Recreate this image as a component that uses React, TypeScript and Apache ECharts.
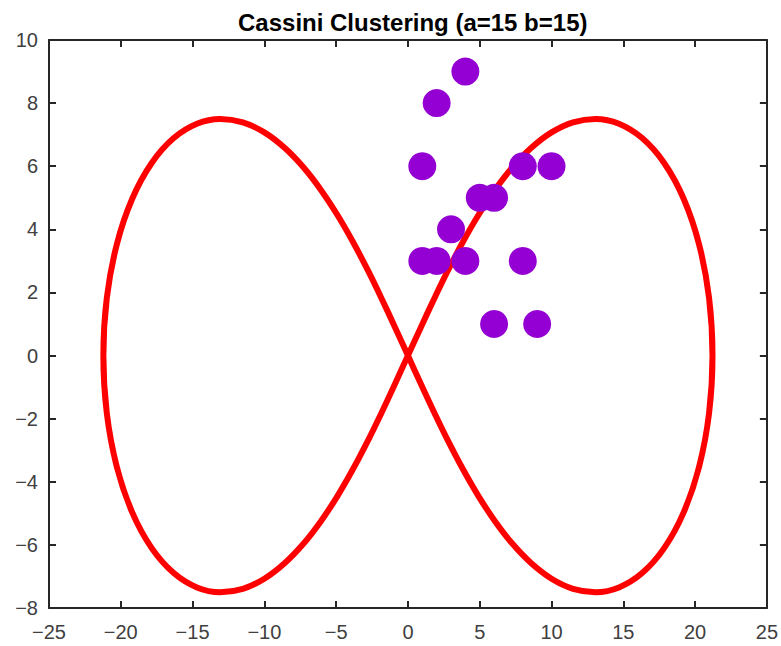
import React, { useEffect, useRef } from "react";
import * as echarts from "echarts";

const titleText = "Cassini Clustering (a=15 b=15)";

// Cassini curve (a=15, b=15) points, starting at the origin
const curveX = [
  0, -0.928, -1.87, -2.84, -3.853, -4.922, -6.061, -7.281, -8.593, -10.0, -11.499, -13.075, -14.697, -16.312, -17.846, -19.204, -20.279, -20.973, -21.213,
  -20.973, -20.279, -19.204, -17.846, -16.312, -14.697, -13.075, -11.499, -10.0, -8.593, -7.281, -6.061, -4.922, -3.853, -2.84, -1.87, -0.928, 0,
  0.928, 1.87, 2.84, 3.853, 4.922, 6.061, 7.281, 8.593, 10.0, 11.499, 13.075, 14.697, 16.312, 17.846, 19.204, 20.279, 20.973, 21.213,
  20.973, 20.279, 19.204, 17.846, 16.312, 14.697, 13.075, 11.499, 10.0, 8.593, 7.281, 6.061, 4.922, 3.853, 2.84, 1.87, 0.928, 0,
];
const curveY = [
  0, -0.924, -1.842, -2.744, -3.621, -4.461, -5.249, -5.965, -6.582, -7.071, -7.391, -7.5, -7.348, -6.894, -6.104, -4.97, -3.522, -1.828, 0,
  1.828, 3.522, 4.97, 6.104, 6.894, 7.348, 7.5, 7.391, 7.071, 6.582, 5.965, 5.249, 4.461, 3.621, 2.744, 1.842, 0.924, 0,
  -0.924, -1.842, -2.744, -3.621, -4.461, -5.249, -5.965, -6.582, -7.071, -7.391, -7.5, -7.348, -6.894, -6.104, -4.97, -3.522, -1.828, 0,
  1.828, 3.522, 4.97, 6.104, 6.894, 7.348, 7.5, 7.391, 7.071, 6.582, 5.965, 5.249, 4.461, 3.621, 2.744, 1.842, 0.924, 0,
];

// cluster points
const pointsX = [4, 2, 1, 8, 10, 5, 6, 3, 1, 2, 4, 8, 6, 9];
const pointsY = [9, 8, 6, 6, 6, 5, 5, 4, 3, 3, 3, 3, 1, 1];

const xMin = -25, xMax = 25, xStep = 5;
const yMin = -8, yMax = 10, yStep = 2;

const axisColor = "#262626";
const labelColor = "#404040";
const fontFamily = "Liberation Sans, Arial, Helvetica, sans-serif";

const fmt = (v: number) => String(v).replace("-", "\u2212");

export default function App() {
  const ref = useRef<HTMLDivElement>(null);
  useEffect(() => {
    if (!ref.current) return;
    const chart = echarts.init(ref.current, undefined, { renderer: "svg" });
    const axisCommon = {
      type: "value" as const,
      axisLine: { show: true, onZero: false, lineStyle: { color: axisColor, width: 2 } },
      axisTick: { show: true, inside: true, length: 7, lineStyle: { color: axisColor, width: 2 } },
      splitLine: { show: false },
    };
    chart.setOption({
      animation: false,
      backgroundColor: "#ffffff",
      title: {
        text: titleText,
        left: 233,
        top: 5,
        textStyle: { fontFamily, fontSize: 24, fontWeight: "bold", color: "#000" },
      },
      grid: { left: 49, right: 12, top: 40, bottom: 38, containLabel: false },
      xAxis: [
        {
          ...axisCommon,
          position: "bottom",
          min: xMin,
          max: xMax,
          interval: xStep,
          axisLabel: { color: labelColor, fontFamily, fontSize: 20, margin: 14, formatter: fmt },
        },
        {
          ...axisCommon,
          position: "top",
          min: xMin,
          max: xMax,
          interval: xStep,
          axisLabel: { show: false },
        },
      ],
      yAxis: [
        {
          ...axisCommon,
          position: "left",
          min: yMin,
          max: yMax,
          interval: yStep,
          axisLabel: { color: labelColor, fontFamily, fontSize: 20, margin: 11, formatter: fmt },
        },
        {
          ...axisCommon,
          position: "right",
          min: yMin,
          max: yMax,
          interval: yStep,
          axisLabel: { show: false },
        },
      ],
      series: [
        {
          type: "line",
          xAxisIndex: 0,
          yAxisIndex: 0,
          data: curveX.map((x, i) => [x, curveY[i]]),
          smooth: 0.3,
          showSymbol: false,
          symbol: "none",
          lineStyle: { color: "#ff0000", width: 6, join: "round", cap: "round" },
          z: 2,
        },
        {
          type: "scatter",
          xAxisIndex: 0,
          yAxisIndex: 0,
          data: pointsX.map((x, i) => [x, pointsY[i]]),
          symbolSize: 28,
          itemStyle: { color: "#9400d3", opacity: 1 },
          z: 3,
        },
      ],
    });
    return () => chart.dispose();
  }, []);
  return <div ref={ref} style={{ width: 781, height: 646, position: "absolute", left: 0, top: 0 }} />;
}
